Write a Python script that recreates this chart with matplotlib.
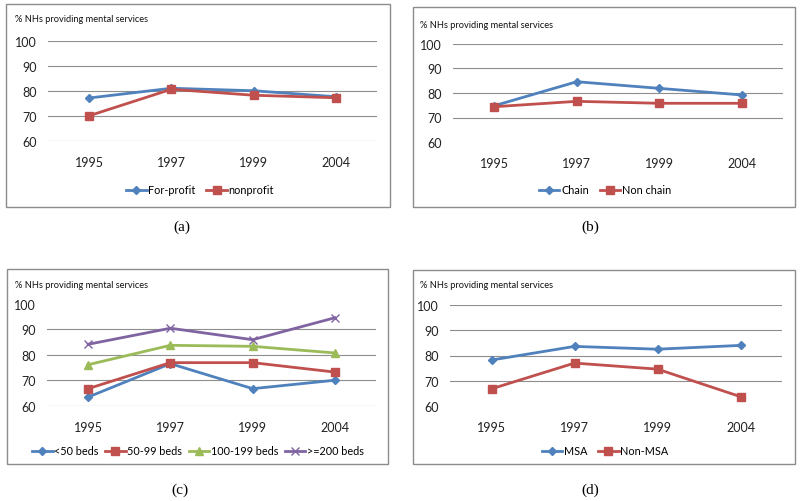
import matplotlib
matplotlib.use("Agg")
import matplotlib.pyplot as plt
from matplotlib.patches import Rectangle

W, H = 800, 502

years = ["1995", "1997", "1999", "2004"]
yticks = [60, 70, 80, 90, 100]
ylabel_text = "% NHs providing mental services"

# (a) ownership
a_labels = ["For-profit", "nonprofit"]
a_forprofit = [77.2, 81.1, 80.1, 77.7]
a_nonprofit = [70.1, 80.7, 78.3, 77.3]

# (b) chain
b_labels = ["Chain", "Non chain"]
b_chain = [74.8, 84.6, 81.9, 79.2]
b_nonchain = [74.4, 76.6, 75.8, 75.8]

# (c) bed size
c_labels = ["<50 beds", "50-99 beds", "100-199 beds", ">=200 beds"]
c_lt50 = [63.5, 76.6, 66.8, 70.1]
c_50_99 = [66.8, 77.0, 77.0, 73.3]
c_100_199 = [76.2, 83.8, 83.4, 80.8]
c_ge200 = [84.2, 90.5, 86.0, 94.6]

# (d) MSA
d_labels = ["MSA", "Non-MSA"]
d_msa = [78.2, 83.6, 82.5, 84.0]
d_nonmsa = [66.8, 77.0, 74.6, 63.7]

captions = ["(a)", "(b)", "(c)", "(d)"]

BLUE = "#4F81BD"
RED = "#C0504D"
GREEN = "#9BBB59"
PURPLE = "#8064A2"
styles = {
    BLUE: dict(marker="D", ms=4.5),
    RED: dict(marker="s", ms=6),
    GREEN: dict(marker="^", ms=6),
    PURPLE: dict(marker="x", ms=6, mew=1.0),
}

FONT = "Lato"

fig = plt.figure(figsize=(W / 100, H / 100), dpi=100)
fig.patch.set_facecolor("white")


def fbox(x0, y0, x1, y1):
    return [x0 / W, 1 - y1 / H, (x1 - x0) / W, (y1 - y0) / H]


def panel(frame, axbox, series, labels, colors, grid, ylab_pos, leg_pos, cap, cap_pos,
          colsp=1.0):
    fx0, fy0, fx1, fy1 = frame
    fig.patches.append(Rectangle((fx0 / W, 1 - fy1 / H), (fx1 - fx0) / W, (fy1 - fy0) / H,
                                 transform=fig.transFigure, fill=False,
                                 edgecolor="#8C8C8C", lw=1.0))
    ax = fig.add_axes(fbox(*axbox))
    ax.set_xlim(-0.5, len(years) - 0.5)
    ax.set_ylim(60, 100)
    for g in grid:
        ax.axhline(g, color="#8E8E8E", lw=0.8, zorder=0)
    xs = list(range(len(years)))
    for vals, lab, col in zip(series, labels, colors):
        st = styles[col]
        ax.plot(xs, vals, color=col, lw=2.0, label=lab, marker=st["marker"],
                ms=st["ms"], mew=st.get("mew", 1.0), mfc=col, mec=col, zorder=3)
    ax.set_xticks(xs)
    ax.set_xticklabels(years, fontsize=9, family=FONT, color="#222222")
    ax.set_yticks(yticks)
    ax.set_yticklabels([str(t) for t in yticks], fontsize=9, family=FONT, color="#222222")
    ax.tick_params(axis="both", length=0)
    ax.tick_params(axis="y", pad=8)
    ax.tick_params(axis="x", pad=11)
    for s in ax.spines.values():
        s.set_visible(False)
    ax.patch.set_alpha(0)
    fig.text(ylab_pos[0] / W, 1 - ylab_pos[1] / H, ylabel_text, fontsize=6.7,
             family=FONT, color="#111111", va="center", ha="left")
    fig.legend(*ax.get_legend_handles_labels(), loc="center",
               bbox_to_anchor=(leg_pos[0] / W, 1 - leg_pos[1] / H),
               ncol=len(labels), frameon=False, handlelength=1.9, handletextpad=0.15,
               columnspacing=colsp, prop={"family": FONT, "size": 7.8})
    fig.text(cap_pos[0] / W, 1 - cap_pos[1] / H, cap, fontsize=11,
             family="Liberation Serif", ha="center", va="center")


panel((6, 5, 390, 208), (48, 42, 377, 142), [a_forprofit, a_nonprofit], a_labels,
      [BLUE, RED], [60, 70, 80, 90, 100], (15, 20), (200, 191), captions[0], (182, 227))
panel((413, 8, 795, 208), (453, 45, 783, 143), [b_chain, b_nonchain], b_labels,
      [BLUE, RED], [70, 80, 90, 100], (420, 25), (605, 191), captions[1], (590, 227))
panel((7, 270, 388, 465), (47, 305, 376, 407), [c_lt50, c_50_99, c_100_199, c_ge200], c_labels,
      [BLUE, RED, GREEN, PURPLE], [60, 70, 80, 90], (15, 285), (198, 452), captions[2], (180, 490),
      colsp=0.6)
panel((413, 271, 795, 465), (450, 306, 782, 407), [d_msa, d_nonmsa], d_labels,
      [BLUE, RED], [70, 80, 90, 100], (420, 286), (605, 452), captions[3], (590, 490))

fig.savefig("out.png", dpi=100)
